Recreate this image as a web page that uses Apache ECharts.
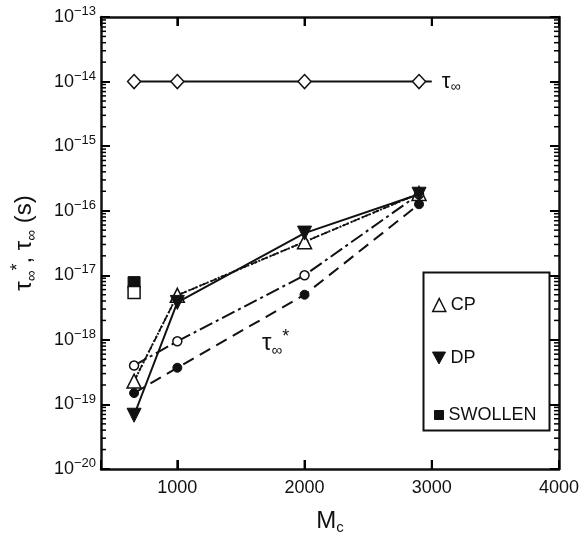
<!DOCTYPE html>
<html><head><meta charset="utf-8">
<script src="https://cdn.jsdelivr.net/npm/echarts@6/dist/echarts.min.js"></script>
<style>html,body{margin:0;padding:0;background:#fff}#c{width:582px;height:540px}</style>
</head><body><div id="c"></div>
<script>
// ---- data ----
const mc = [660, 1000, 2000, 2900];
const tauInfEndX = 3000;
const tauInf = [1e-14, 1e-14, 1e-14, 1e-14];
const cp = [2.3e-19, 4.9e-18, 3.3e-17, 1.85e-16];
const dp = [6.8e-20, 3.8e-18, 4.5e-17, 1.8e-16];
const openCircle = [4.0e-19, 9.5e-19, 1.0e-17, 1.8e-16];
const filledCircle = [1.5e-19, 3.7e-19, 5.0e-18, 1.26e-16];
const swollenX = [660];
const swollenFilled = [7.7e-18];
const swollenOpen = [5.4e-18];
const xTickValues = [1000, 2000, 3000];
const xLabelValues = [1000, 2000, 3000, 4000];
const yExponents = [-20, -19, -18, -17, -16, -15, -14, -13];

// ---- build ----
const pairs = (xs, ys) => xs.map((x, i) => [x, ys[i]]);
const yMajor = yExponents.map(e => Math.pow(10, e));
const yMinor = [];
yExponents.slice(0, -1).forEach(e => { for (let k = 2; k <= 9; k++) yMinor.push(k * Math.pow(10, e)); });
const BLACK = '#111';
const FONT = 'Liberation Sans, Arial, sans-serif';
const X_MIN = 400, X_MAX = 4000, Y_MIN = 1e-20, Y_MAX = 1e-13;
const majorTick = {show: true, inside: true, length: 9, lineStyle: {color: '#000', width: 2}};

function xAxisBase(pos, labels) {
  return {
    type: 'value', min: X_MIN, max: X_MAX, position: pos, zlevel: 1,
    axisLine: {show: true, onZero: false, lineStyle: {color: BLACK, width: 2.5}},
    axisTick: majorTick,
    axisLabel: labels ? {show: true, customValues: xLabelValues, fontSize: 18, margin: 10, color: BLACK,
                         fontFamily: FONT, formatter: v => String(v)} : {show: false},
    splitLine: {show: false}
  };
}
function yAxisBase(pos, labels) {
  return {
    type: 'log', min: Y_MIN, max: Y_MAX, position: pos, zlevel: 1,
    axisLine: {show: true, onZero: false, lineStyle: {color: BLACK, width: 2.5}},
    axisTick: majorTick,
    axisLabel: labels ? {
      show: true, margin: 5, color: BLACK, fontFamily: FONT,
      formatter: v => '{b|10}{s|' + String(Math.round(Math.log10(v))).replace('-', '−') + '}',
      rich: {b: {fontSize: 18, lineHeight: 24, fontFamily: FONT, color: BLACK},
             s: {fontSize: 13, lineHeight: 13, verticalAlign: 'top', fontFamily: FONT, color: BLACK}}
    } : {show: false},
    splitLine: {show: false}, minorTick: {show: false}
  };
}
const yNameRich = {
  a: {fontSize: 24, lineHeight: 30, fontFamily: FONT, color: BLACK},
  sub: {fontSize: 15, lineHeight: 15, verticalAlign: 'bottom', fontFamily: FONT, color: BLACK},
  sup: {fontSize: 18, lineHeight: 16, verticalAlign: 'top', fontFamily: FONT, color: BLACK}
};
const xAxes = [xAxisBase('bottom', true), xAxisBase('top', false)];
xAxes[0].name = '{a|M}{sub|c}';
xAxes[0].nameLocation = 'middle';
xAxes[0].nameGap = 38;
xAxes[0].nameTextStyle = {rich: {
  a: {fontSize: 24, lineHeight: 28, fontFamily: FONT, color: BLACK},
  sub: {fontSize: 15, lineHeight: 15, verticalAlign: 'bottom', fontFamily: FONT, color: BLACK}}};
const yAxes = [yAxisBase('left', true), yAxisBase('right', false)];
yAxes[0].name = '{a|τ}{sub|∞}{sup|*}{a|, τ}{sub|∞}{a| (s)}';
yAxes[0].nameLocation = 'middle';
yAxes[0].nameRotate = 90;
yAxes[0].nameGap = 62;
yAxes[0].nameTextStyle = {rich: yNameRich};

const symStyleOpen = {color: '#fff', borderColor: BLACK, borderWidth: 1.5, opacity: 1};
const symStyleFill = {color: BLACK, borderColor: BLACK, borderWidth: 1, opacity: 1};
const tickStyle = {color: '#000', opacity: 1, borderWidth: 0};
const tauData = pairs(mc, tauInf);
tauData.push({value: [tauInfEndX, tauInf[tauInf.length - 1]], symbol: 'none'});

// inward minor tick marks, placed on the axes through the chart's own log scale
function tickSeries(name, data, size, offset) {
  return {name: name, type: 'scatter', data: data, symbol: 'rect', symbolSize: size, symbolOffset: offset,
          itemStyle: tickStyle, silent: true, clip: false, z: 10, zlevel: 1, emphasis: {disabled: true}};
}

const option = {
  animation: false,
  backgroundColor: '#fff',
  grid: {left: 101, right: 22, top: 17, bottom: 67},
  xAxis: xAxes, yAxis: yAxes,
  legend: [
    {data: [{name: 'CP', icon: 'triangle'}], left: 427, top: 291, itemWidth: 13, itemHeight: 13, itemGap: 0,
     textStyle: {fontSize: 18, color: BLACK, fontFamily: FONT}, itemStyle: symStyleOpen, selectedMode: false},
    {data: [{name: 'DP', icon: 'path://M0,0L12,0L6,11Z'}], left: 427, top: 344, itemWidth: 13, itemHeight: 12, itemGap: 0,
     textStyle: {fontSize: 18, color: BLACK, fontFamily: FONT}, itemStyle: symStyleFill, selectedMode: false},
    {data: [{name: 'SWOLLEN', icon: 'rect'}], left: 429, top: 401, itemWidth: 9, itemHeight: 9, itemGap: 0, itemTextGap: 7,
     textStyle: {fontSize: 18, color: BLACK, fontFamily: FONT}, itemStyle: symStyleFill, selectedMode: false}
  ],
  graphic: [
    {type: 'rect', left: 421, top: 270, shape: {width: 126, height: 158},
     style: {fill: 'none', stroke: BLACK, lineWidth: 2}, z: 100},
    {type: 'text', left: 262, top: 328, z: 100, style: {
      text: '{t|τ}{s|∞}{p|*}',
      rich: {t: {fontSize: 24, lineHeight: 30, fontFamily: FONT, fill: BLACK},
             s: {fontSize: 15, lineHeight: 15, verticalAlign: 'bottom', fontFamily: FONT, fill: BLACK},
             p: {fontSize: 18, lineHeight: 16, verticalAlign: 'top', fontFamily: FONT, fill: BLACK}}}}
  ],
  series: [
    {name: 'tauInf', type: 'line', data: tauData, symbol: 'diamond', symbolSize: [13, 14],
     itemStyle: symStyleOpen, lineStyle: {color: BLACK, width: 2}, z: 3,
     endLabel: {show: true, distance: 10, formatter: '{t|τ}{s|∞}',
       rich: {t: {fontSize: 22, lineHeight: 26, fontFamily: FONT, color: BLACK},
              s: {fontSize: 14, lineHeight: 14, verticalAlign: 'bottom', fontFamily: FONT, color: BLACK}}}},
    {name: 'CPdash', type: 'line', data: pairs(mc, cp), symbol: 'none',
     lineStyle: {color: BLACK, width: 1.6, type: [7, 4]}, z: 2},
    {name: 'CP', type: 'line', data: pairs(mc, cp), symbol: 'triangle', symbolSize: 14,
     itemStyle: symStyleOpen, lineStyle: {color: BLACK, width: 2, type: [2, 2]}, z: 3},
    {name: 'DP', type: 'line', data: pairs(mc, dp), symbol: 'triangle', symbolRotate: 180, symbolSize: 14,
     itemStyle: symStyleFill, lineStyle: {color: BLACK, width: 2}, z: 4},
    {name: 'openCircle', type: 'line', data: pairs(mc, openCircle), symbol: 'circle', symbolSize: 9,
     itemStyle: symStyleOpen, lineStyle: {color: BLACK, width: 2, type: [14, 4, 3, 4]}, z: 3},
    {name: 'filledCircle', type: 'line', data: pairs(mc, filledCircle), symbol: 'circle', symbolSize: 9,
     itemStyle: symStyleFill, lineStyle: {color: BLACK, width: 2, type: [12, 7]}, z: 3},
    {name: 'SWOLLEN', type: 'scatter', data: pairs(swollenX, swollenFilled), symbol: 'rect', symbolSize: 12,
     itemStyle: symStyleFill, z: 4},
    {name: 'swollenOpen', type: 'scatter', data: pairs(swollenX, swollenOpen), symbol: 'rect', symbolSize: 12,
     itemStyle: symStyleOpen, z: 4},
    tickSeries('xTickB', xTickValues.map(v => [v, Y_MIN]), [2, 9], [0, -4.5]),
    tickSeries('xTickT', xTickValues.map(v => [v, Y_MAX]), [2, 9], [0, 4.5]),
    tickSeries('minorL', yMinor.map(v => [X_MIN, v]), [5, 1.5], [2.5, 0]),
    tickSeries('minorR', yMinor.map(v => [X_MAX, v]), [5, 1.5], [-2.5, 0])
  ]
};
const chart = echarts.init(document.getElementById('c'), null, {renderer: 'canvas'});
chart.setOption(option);
</script>
</body></html>
